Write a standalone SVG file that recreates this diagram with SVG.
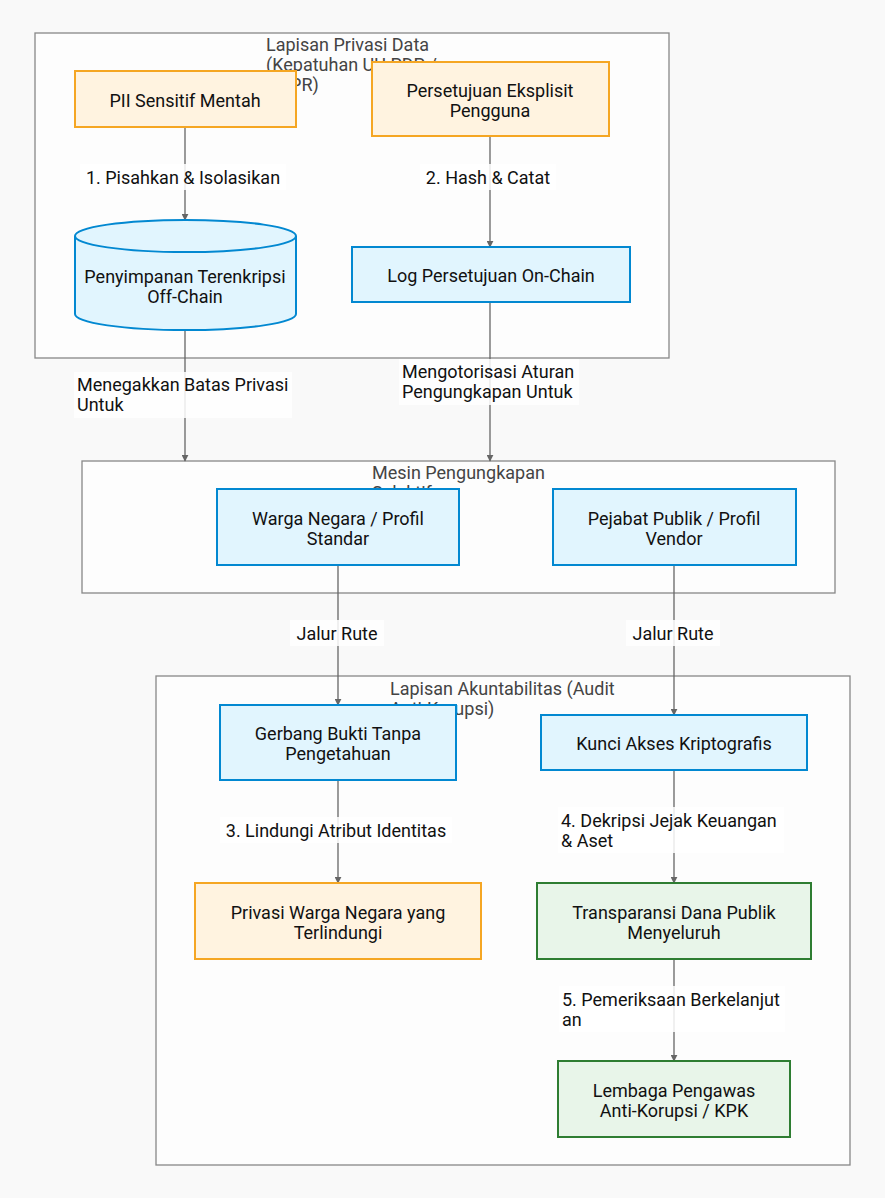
<svg xmlns="http://www.w3.org/2000/svg" width="885" height="1198" viewBox="0 0 885 1198">
<style>
text{font-family:Roboto,"Liberation Sans",sans-serif;font-size:18px;fill:#111}
.ct{fill:#444;text-anchor:start}
.c{fill:#fdfdfd;stroke:#888;stroke-width:1.3}
.o{fill:#fff3e0;stroke:#f5a623;stroke-width:2}
.b{fill:#e1f5fe;stroke:#0288d1;stroke-width:2}
.g{fill:#e8f5e9;stroke:#2e7d32;stroke-width:2}
.n{text-anchor:middle}
.e{stroke:#666;stroke-width:1.3;fill:none;marker-end:url(#a)}
.lb{fill:#fff;opacity:0.85}
.el{fill:#111}
</style>
<defs>
<marker id="a" viewBox="0 0 10 10" refX="9" refY="5" markerWidth="7" markerHeight="7" markerUnits="userSpaceOnUse" orient="auto"><path d="M0,0L10,5L0,10z" fill="#666"/></marker>
</defs>
<rect width="885" height="1198" fill="#f9f9f9"/>
<g id="clusters">
<g id="cluster-privasi"><rect class="c" x="35" y="33" width="634" height="325"/><text class="ct" x="266" y="51">Lapisan Privasi Data</text><text class="ct" x="266" y="71">(Kepatuhan UU PDP /</text><text class="ct" x="266" y="91">GDPR)</text></g>
<g id="cluster-mesin"><rect class="c" x="82" y="461" width="753" height="132"/><text class="ct" x="372" y="479">Mesin Pengungkapan</text><text class="ct" x="372" y="499">Selektif</text></g>
<g id="cluster-akuntabilitas"><rect class="c" x="156" y="676" width="694" height="489"/><text class="ct" x="390" y="695">Lapisan Akuntabilitas (Audit</text><text class="ct" x="390" y="715">Anti-Korupsi)</text></g>
</g>
<g id="connectors">
<path class="e" d="M185,127V220"/>
<path class="e" d="M490,136V247"/>
<path class="e" d="M185,330V461"/>
<path class="e" d="M490,302V461"/>
<path class="e" d="M338,565V705"/>
<path class="e" d="M674,565V715"/>
<path class="e" d="M338,780V883"/>
<path class="e" d="M674,770V883"/>
<path class="e" d="M674,959V1061"/>
<rect class="lb" x="80" y="164" width="206" height="26"/><text class="el n" x="183" y="184">1. Pisahkan &amp; Isolasikan</text>
<rect class="lb" x="420" y="164" width="136" height="26"/><text class="el n" x="488" y="184">2. Hash &amp; Catat</text>
<rect class="lb" x="74" y="372" width="218" height="46"/><text class="el" x="77" y="391">Menegakkan Batas Privasi</text><text class="el" x="77" y="411">Untuk</text>
<rect class="lb" x="399" y="359" width="180" height="46"/><text class="el" x="402" y="378">Mengotorisasi Aturan</text><text class="el" x="402" y="398">Pengungkapan Untuk</text>
<rect class="lb" x="290" y="620" width="94" height="26"/><text class="el n" x="337" y="640">Jalur Rute</text>
<rect class="lb" x="626" y="620" width="94" height="26"/><text class="el n" x="673" y="640">Jalur Rute</text>
<rect class="lb" x="220" y="817" width="232" height="26"/><text class="el n" x="336" y="837">3. Lindungi Atribut Identitas</text>
<rect class="lb" x="558" y="807" width="226" height="46"/><text class="el" x="561" y="827">4. Dekripsi Jejak Keuangan</text><text class="el" x="561" y="847">&amp; Aset</text>
<rect class="lb" x="559" y="986" width="226" height="46"/><text class="el" x="562" y="1006">5. Pemeriksaan Berkelanjut</text><text class="el" x="562" y="1026">an</text>
</g>
<g id="pii"><rect class="o" x="75" y="71" width="221" height="56"/><text class="n" x="185" y="107">PII Sensitif Mentah</text></g>
<g id="persetujuan"><rect class="o" x="372" y="62" width="237" height="74"/><text class="n" x="490" y="97">Persetujuan Eksplisit</text><text class="n" x="490" y="117">Pengguna</text></g>
<g id="penyimpanan"><path class="b" d="M75,236A110,16 0 0 1 296,236V314A110,16 0 0 1 75,314Z"/><path class="b" d="M75,236A110,16 0 0 0 296,236" fill="none"/><text class="n" x="185" y="283">Penyimpanan Terenkripsi</text><text class="n" x="185" y="303">Off-Chain</text></g>
<g id="log"><rect class="b" x="352" y="247" width="278" height="55"/><text class="n" x="491" y="282">Log Persetujuan On-Chain</text></g>
<g id="warga"><rect class="b" x="217" y="489" width="242" height="76"/><text class="n" x="338" y="525">Warga Negara / Profil</text><text class="n" x="338" y="545">Standar</text></g>
<g id="pejabat"><rect class="b" x="553" y="489" width="243" height="76"/><text class="n" x="674" y="525">Pejabat Publik / Profil</text><text class="n" x="674" y="545">Vendor</text></g>
<g id="gerbang"><rect class="b" x="220" y="705" width="236" height="75"/><text class="n" x="338" y="740">Gerbang Bukti Tanpa</text><text class="n" x="338" y="760">Pengetahuan</text></g>
<g id="kunci"><rect class="b" x="541" y="715" width="266" height="55"/><text class="n" x="674" y="750">Kunci Akses Kriptografis</text></g>
<g id="privasi-warga"><rect class="o" x="195" y="883" width="286" height="76"/><text class="n" x="338" y="919">Privasi Warga Negara yang</text><text class="n" x="338" y="939">Terlindungi</text></g>
<g id="transparansi"><rect class="g" x="537" y="883" width="274" height="76"/><text class="n" x="674" y="919">Transparansi Dana Publik</text><text class="n" x="674" y="939">Menyeluruh</text></g>
<g id="lembaga"><rect class="g" x="558" y="1061" width="232" height="76"/><text class="n" x="674" y="1097">Lembaga Pengawas</text><text class="n" x="674" y="1117">Anti-Korupsi / KPK</text></g>
</svg>
